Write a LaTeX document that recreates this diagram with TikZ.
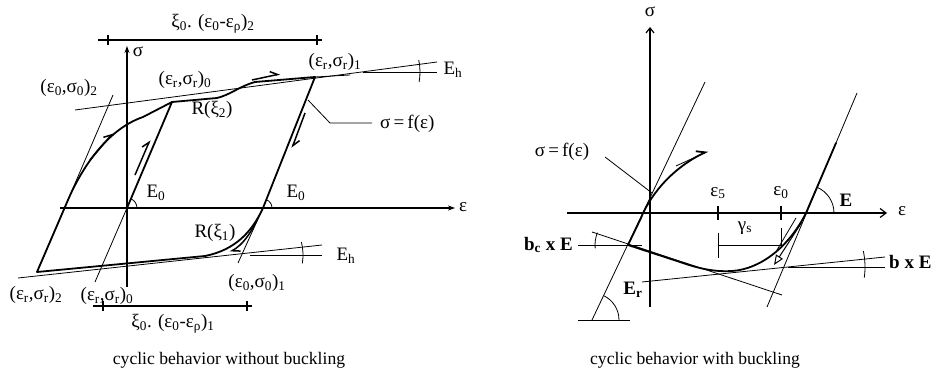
\documentclass[tikz,border=0pt]{standalone}
\usepackage{fontspec}
\setmainfont{Liberation Serif}
\usetikzlibrary{arrows.meta}
\newcommand\sbs[1]{\textsubscript{#1}}
\begin{document}
\begin{tikzpicture}[x=1pt,y=-1pt,
  thinl/.style={line width=0.8pt},
  thickl/.style={line width=1.8pt, line join=round, line cap=round},
  axisl/.style={line width=1.2pt},
  lbl/.style={inner sep=0pt, font=\fontsize{19}{22}\selectfont},
  blbl/.style={inner sep=0pt, font=\fontsize{19}{22}\selectfont\bfseries},
  caplbl/.style={inner sep=0pt, font=\fontsize{17.6}{21}\selectfont},
  harp/.style={line width=1.5pt, -{Straight Barb[harpoon,length=7pt,width=9pt]}},
  ax/.style={axisl,-{Stealth[length=7pt,width=5pt]}},
  axo/.style={axisl,-{Straight Barb[length=6pt,width=9pt]}}
]
\useasboundingbox (0,0) rectangle (937,374);

% ===================== LEFT DIAGRAM =====================
\coordinate (O1) at (127,208);
\draw[ax] (127,287) -- (127,46) coordinate (S1);
\draw[ax] (60,208) -- (455,208) coordinate (E1);
\node[lbl] (sig1) at (138,52) {σ};
\node[lbl] (eps1) at (463,207) {ε};

% envelopes
\draw[thinl] (75,110) -- (437,62);
\draw[thinl] (363,72) -- (437,72);
\draw[thinl] ([shift={(10:57)}]363,72) arc[start angle=10,end angle=-12,radius=57];
\draw[thinl] (18,278) -- (322,245);
\draw[thinl] (250,255) -- (322,255);
\draw[thinl] ([shift={(9:53)}]250,255) arc[start angle=9,end angle=-14,radius=53];

% elastic lines
\draw[thinl] (37,272) -- (113,95);
\draw[thinl] (95,282) -- (127,208);
\draw[thinl] (263,208) -- (238,263);
\draw[thinl] (315,77) -- (350,75);

% loop (thick)
\coordinate (Rr0) at (172,102);
\coordinate (Rr1) at (315,77);
\coordinate (Rr2) at (37,272);
\draw[thickl] (O1) -- (Rr0) -- (217,98) .. controls (230,95) and (240,86) .. (255,82) -- (Rr1)
  -- (263,208) .. controls (252,232) and (235,250) .. (205,256) -- (Rr2)
  -- (68,200) .. controls (80,172) and (105,130) .. (143,117) -- (Rr0);

% arrows along loop
\draw[harp] (135,175) -- (150,140);
\draw[harp] (90,160) -- (113,133);
\draw[harp] (252,80) -- (280,74);
\draw[harp] (305,113) -- (292,148);
\draw[harp] (258,218) .. controls (250,235) and (242,245) .. (230,252);

% angle marks
\draw[thinl] ([shift={(0:10)}]127,208) arc[start angle=0,end angle=-67,radius=10];
\draw[thinl] ([shift={(0:9)}]263,208) arc[start angle=0,end angle=-68,radius=9];

% leader
\draw[thinl] (308,100) -- (330,123) -- (372,123);

% dimension lines
\draw[axisl] (98,40) -- (322,40);
\draw[axisl] (108,35) -- (108,45);
\draw[axisl] (317,35) -- (317,45);
\draw[axisl] (93,306) -- (252,306);
\draw[axisl] (103,301) -- (103,311);
\draw[axisl] (247,301) -- (247,311);

% labels
\node[lbl] (d2) at (213,24) {ξ\sbs{0}. (ε\sbs{0}-ε\sbs{ρ})\sbs{2}};
\node[lbl] (d1) at (173,324) {ξ\sbs{0}. (ε\sbs{0}-ε\sbs{ρ})\sbs{1}};
\node[lbl] (l02) at (69,88) {(ε\sbs{0},σ\sbs{0})\sbs{2}};
\node[lbl] (lr0t) at (185,80) {(ε\sbs{r},σ\sbs{r})\sbs{0}};
\node[lbl] (lR2) at (212,110) {R(ξ\sbs{2})};
\node[lbl] (lr1) at (335,62) {(ε\sbs{r},σ\sbs{r})\sbs{1}};
\node[lbl] (lEh1) at (453,70) {E\sbs{h}};
\node[lbl,anchor=west] (lsf) at (380,124) {σ\,=\,f(ε)};
\node[lbl] (lE0a) at (156,193) {E\sbs{0}};
\node[lbl] (lE0b) at (296,193) {E\sbs{0}};
\node[lbl] (lR1) at (215,233) {R(ξ\sbs{1})};
\node[lbl] (lEh2) at (346,256) {E\sbs{h}};
\node[lbl] (lr2) at (36,295) {(ε\sbs{r},σ\sbs{r})\sbs{2}};
\node[lbl] (lr0b) at (107,296) {(ε\sbs{r},σ\sbs{r})\sbs{0}};
\node[lbl] (l01) at (257,283) {(ε\sbs{0},σ\sbs{0})\sbs{1}};
\node[caplbl] (cap1) at (229,360) {cyclic behavior without buckling};

% ===================== RIGHT DIAGRAM =====================
\draw[axisl,-{Straight Barb[length=5pt,width=8pt]}] (650,307) -- (650,27);
\draw[axo] (567,213) -- (887,213);
\node[lbl] (sig2) at (650,12) {σ};
\node[lbl] (eps2) at (902,211) {ε};

% elastic lines and base
\draw[thinl] (592,320) -- (705,82);
\draw[thinl] (578,320) -- (630,320);
\draw[thinl] ([shift={(0:27)}]592,320) arc[start angle=0,end angle=-64.6,radius=27];
\draw[thinl] (767,307) -- (857,93);
\draw[thinl] ([shift={(0:28)}]806,213) arc[start angle=0,end angle=-67,radius=28];

% bc line
\draw[thinl] (592,232) -- (782,295);
\draw[thinl] (578,245) -- (642,245);
\draw[thinl] ([shift={(-158:33)}]628,245) arc[start angle=-158,end angle=-186,radius=33];
% b line
\draw[thinl] (642,282) -- (885,257);
\draw[thinl] (788,267) -- (885,267);
\draw[thinl] ([shift={(8:77)}]788,267) arc[start angle=8,end angle=-12,radius=77];

% ticks and gamma_s
\draw[axisl] (718,206) -- (718,220);
\draw[axisl] (781,206) -- (781,220);
\draw[thinl] (718,233) -- (718,258);
\draw[thinl] (718,245) -- (781,245);
\draw[thinl] (781,228) -- (781,247);

% leader
\draw[thinl] (605,157) -- (652,193);

% thick curves
\coordinate (B1) at (628,245);
\draw[thickl, -{Straight Barb[harpoon,length=8pt,width=10pt]}] (B1) -- (641,218) .. controls (648,200) and (668,170) .. (708,151);
\draw[thinl] (676,166) -- (700,155);
\draw[thickl] (B1) -- (680,262) .. controls (700,269) and (715,272) .. (732,271)
  .. controls (762,269) and (790,245) .. (806,213) -- (836,143);
\draw[line width=1pt, -{Triangle[open,length=10pt,width=8pt]}] (802,222) -- (774,265);
\draw[line width=0.8pt] (796,218) -- (777,250);

% labels
\node[lbl] (sf2) at (562,152) {σ\,=\,f(ε)};
\node[blbl] (E2) at (846,200) {E};
\node[lbl] (e5) at (718,193) {ε\sbs{5}};
\node[lbl] (e0) at (781,193) {ε\sbs{0}};
\node[lbl] (gs) at (745,228) {γ\sbs{s}};
\node[blbl,anchor=east] (bcE) at (573,245) {b\sbs{c} x E};
\node[blbl] (Er) at (633,290) {E\sbs{r}};
\node[blbl,anchor=west] (bE) at (889,262) {b x E};
\node[caplbl] (cap2) at (695,360) {cyclic behavior with buckling};
\end{tikzpicture}
\end{document}
